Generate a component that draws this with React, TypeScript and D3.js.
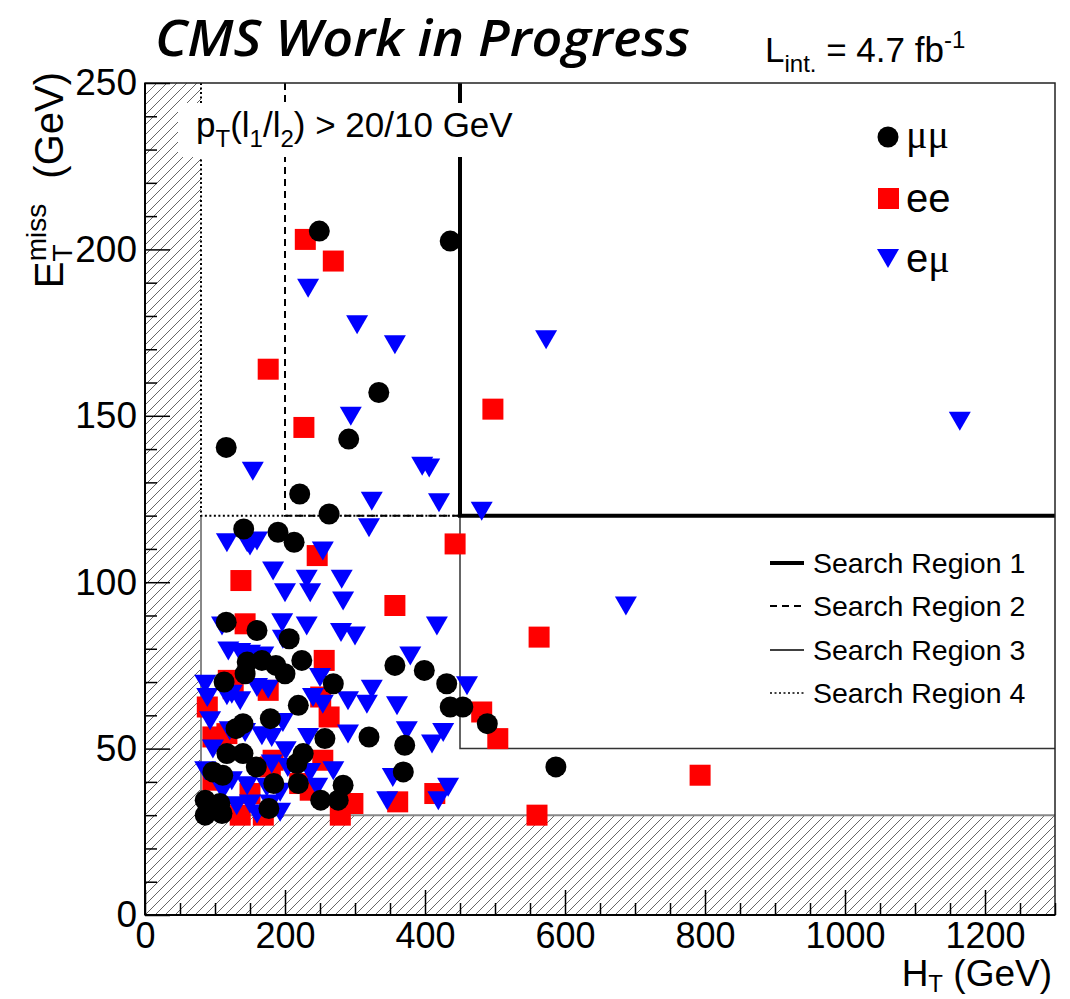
import * as d3 from "d3";
import { useEffect, useRef } from "react";

const W = 1070;
const H = 999;

// mu-mu events (HT, MET in GeV)
const mumuHT = [249, 436, 334, 291, 116, 221, 263, 141, 190, 213, 116, 160, 206, 224, 146, 167, 187, 200, 143, 113, 269, 357, 399, 431, 219, 436, 454, 489, 179, 140, 130, 257, 320, 371, 117, 140, 226, 217, 159, 97, 111, 369, 587, 184, 219, 283, 251, 276, 86, 107, 86, 110, 177];
const mumuMET = [205.5, 202.5, 157, 143, 140.5, 126.5, 120.5, 116, 115, 112, 88, 85.5, 83, 76.5, 76, 76.5, 75, 72.5, 72.5, 70, 69.5, 75, 73.5, 69.5, 63, 62.5, 62.5, 57.5, 59, 57.5, 56, 53, 53.5, 51, 48.5, 48.5, 48.5, 45.5, 44.5, 43, 42, 43, 44.5, 39.5, 39.5, 39, 34.5, 34.5, 34.5, 33.5, 30, 30.5, 32];

// e-e events
const eeHT = [229, 269, 176, 227, 497, 443, 246, 137, 357, 563, 793, 560, 143, 256, 176, 126, 89, 251, 263, 481, 504, 254, 414, 361, 297, 279, 97, 179, 97, 236, 136, 169, 150, 221, 117, 183, 119];
const eeMET = [203, 196.5, 164, 146.5, 152, 111.5, 108, 100.5, 93, 83.5, 42, 30, 87.5, 76.5, 67.5, 68, 62.5, 65.5, 59.5, 61, 53, 46.5, 36.5, 34, 33.5, 30, 53.5, 44.5, 40.5, 37.5, 30, 30, 36.5, 39.5, 54.5, 46.5, 70.5];

// e-mu events
const emuHT = [233, 303, 357, 573, 1164, 294, 154, 396, 406, 420, 324, 481, 687, 320, 117, 146, 160, 150, 254, 183, 231, 281, 200, 236, 283, 110, 196, 231, 280, 300, 197, 417, 119, 136, 150, 169, 379, 250, 324, 86, 89, 117, 136, 160, 176, 124, 240, 254, 290, 317, 360, 460, 93, 121, 143, 167, 181, 197, 233, 290, 374, 426, 410, 97, 201, 86, 124, 146, 174, 193, 236, 246, 269, 354, 433, 419, 346, 131, 150, 160, 193, 111, 181, 204, 179];
const emuMET = [188.5, 177.5, 171.5, 173, 148.5, 150, 133.5, 135, 134.5, 124, 124.5, 121.5, 93, 116.5, 112, 112, 112.5, 111, 109.5, 103.5, 101, 101, 97, 97, 94.5, 87, 88, 87, 85, 84, 83, 87, 79.5, 79, 78.5, 78, 78, 71.5, 68, 69.5, 65.5, 66, 64.5, 68.5, 68, 66.5, 65.5, 63.5, 64.5, 63.5, 63, 69, 58.5, 55.5, 55, 54, 53.5, 58, 53.5, 54.5, 55.5, 55, 51.5, 50, 49.5, 43.5, 40.5, 39, 38.5, 37, 43, 38.5, 43.5, 41.5, 38.5, 34.5, 34.5, 33, 33.5, 30.5, 31, 37.5, 45.5, 44.5, 33.5];

// search region outlines
const sr1HT = [450, 450, 1300];
const sr1MET = [250, 120, 120];
const sr2HT = [200, 200, 450];
const sr2MET = [250, 120, 120];
const sr3HT = [450, 450, 1300];
const sr3MET = [120, 50, 50];
const sr4HT = [80, 80, 450];
const sr4MET = [250, 120, 120];
const cutHT = [80, 80, 1300];
const cutMET = [120, 30, 30];

const xMajor = [0, 200, 400, 600, 800, 1000, 1200];
const xMinor = d3.range(0, 1301, 50).filter((v) => v % 200 !== 0);
const yMajor = [0, 50, 100, 150, 200, 250];
const yMinor = d3.range(0, 251, 10).filter((v) => v % 50 !== 0);

const regionLabels = ["Search Region 1", "Search Region 2", "Search Region 3", "Search Region 4"];

const x = d3.scaleLinear().domain([0, 1300]).range([145, 1055]);
const y = d3.scaleLinear().domain([0, 250]).range([915, 83]);

const SANS = "'Liberation Sans', Arial, Helvetica, sans-serif";
const SERIF = "'Liberation Serif', 'DejaVu Serif', serif";

const App = () => {
  const ref = useRef<SVGGElement>(null);

  useEffect(() => {
    const g = d3.select(ref.current);
    g.selectAll("*").remove();

    // X axis
    const xa = g
      .append("g")
      .attr("transform", `translate(0,${y(0)})`)
      .call(
        d3.axisBottom(x).tickValues(xMajor).tickFormat(d3.format("d")).tickSizeInner(-25).tickSizeOuter(0).tickPadding(7)
      );
    xa.select(".domain").remove();
    xa.selectAll("line").attr("stroke", "#000").attr("stroke-width", 1.5);
    xa.selectAll("text").attr("font-size", 36).attr("font-family", SANS).attr("fill", "#000");
    const xm = g
      .append("g")
      .attr("transform", `translate(0,${y(0)})`)
      .call(d3.axisBottom(x).tickValues(xMinor).tickSizeInner(-12).tickSizeOuter(0).tickFormat(() => ""));
    xm.select(".domain").remove();
    xm.selectAll("line").attr("stroke", "#000").attr("stroke-width", 1.5);

    // Y axis
    const ya = g
      .append("g")
      .attr("transform", `translate(${x(0)},0)`)
      .call(
        d3.axisLeft(y).tickValues(yMajor).tickFormat(d3.format("d")).tickSizeInner(-25).tickSizeOuter(0).tickPadding(8)
      );
    ya.select(".domain").remove();
    ya.selectAll("line").attr("stroke", "#000").attr("stroke-width", 1.5);
    ya.selectAll("text").attr("font-size", 37).attr("font-family", SANS).attr("fill", "#000");
    const ym = g
      .append("g")
      .attr("transform", `translate(${x(0)},0)`)
      .call(d3.axisLeft(y).tickValues(yMinor).tickSizeInner(-12).tickSizeOuter(0).tickFormat(() => ""));
    ym.select(".domain").remove();
    ym.selectAll("line").attr("stroke", "#000").attr("stroke-width", 1.5);
  }, []);

  const path = (hx: number[], my: number[]) =>
    d3.line<number>().x((d) => x(hx[d])).y((d) => y(my[d]))(d3.range(hx.length)) ?? "";

  const tri = (cx: number, cy: number) => `M${cx - 11},${cy - 9}L${cx + 11},${cy - 9}L${cx},${cy + 10}Z`;

  const legendY = [563, 606, 650, 693];
  const legendStyle = [
    { w: 4, dash: "" },
    { w: 2, dash: "7,5" },
    { w: 1.5, dash: "" },
    { w: 1.5, dash: "2,2.5" },
  ];

  return (
    <svg width={W} height={H} style={{ position: "absolute", left: 0, top: 0, background: "#fff" }}>
      <defs>
        <pattern id="hatch" patternUnits="userSpaceOnUse" width="10" height="10">
          <path d="M0,10L10,0M-2.5,2.5L2.5,-2.5M7.5,12.5L12.5,7.5" stroke="#666" strokeWidth="1" />
        </pattern>
      </defs>

      {/* excluded (hatched) regions */}
      <rect x={x(0)} y={y(250)} width={x(80) - x(0)} height={y(0) - y(250)} fill="url(#hatch)" />
      <rect x={x(0)} y={y(30)} width={x(1300) - x(0)} height={y(0) - y(30)} fill="url(#hatch)" />
      <path d={path(cutHT, cutMET)} fill="none" stroke="#888" strokeWidth={2} />

      {/* search regions */}
      <path d={path(sr4HT, sr4MET)} fill="none" stroke="#000" strokeWidth={2} strokeDasharray="2,2.5" />
      <path d={path(sr2HT, sr2MET)} fill="none" stroke="#000" strokeWidth={2} strokeDasharray="7,5" />
      <path d={path(sr3HT, sr3MET)} fill="none" stroke="#333" strokeWidth={1.5} />
      <path d={path(sr1HT, sr1MET)} fill="none" stroke="#000" strokeWidth={4} />

      {/* selection label */}
      <rect x={178} y={103} width={365} height={54} fill="#fff" />
      <text x={196} y={137} fontFamily={SANS} fontSize={35} fill="#000">
        p<tspan fontSize={24} dy={10}>T</tspan>
        <tspan dy={-10}>(l</tspan>
        <tspan fontSize={24} dy={10}>1</tspan>
        <tspan dy={-10}>/l</tspan>
        <tspan fontSize={24} dy={10}>2</tspan>
        <tspan dy={-10}>) &gt; 20/10 GeV</tspan>
      </text>

      {/* events */}
      <g fill="#ff0000">
        {eeHT.map((h, i) => (
          <rect key={i} x={x(h) - 10.5} y={y(eeMET[i]) - 10.5} width={21} height={21} />
        ))}
      </g>
      <g fill="#0000ff">
        {emuHT.map((h, i) => (
          <path key={i} d={tri(x(h), y(emuMET[i]))} />
        ))}
      </g>
      <g fill="#000">
        {mumuHT.map((h, i) => (
          <circle key={i} cx={x(h)} cy={y(mumuMET[i])} r={10.5} />
        ))}
      </g>

      {/* frame */}
      <rect x={x(0)} y={y(250)} width={x(1300) - x(0)} height={y(0) - y(250)} fill="none" stroke="#222" strokeWidth={1.5} />
      <line x1={x(0)} x2={x(1300)} y1={y(0)} y2={y(0)} stroke="#000" strokeWidth={2} />
      <line x1={x(0)} x2={x(0)} y1={y(0)} y2={y(250)} stroke="#000" strokeWidth={2} />
      <g ref={ref} />

      {/* channel legend */}
      <circle cx={888} cy={137} r={10.5} fill="#000" />
      <text x={906} y={148} fontFamily={SERIF} fontSize={40} fill="#000">μμ</text>
      <rect x={878} y={188} width={21} height={21} fill="#ff0000" />
      <text x={906} y={212} fontFamily={SANS} fontSize={40} fill="#000">ee</text>
      <path d={tri(888, 258)} fill="#0000ff" />
      <text x={906} y={272} fontFamily={SANS} fontSize={40} fill="#000">
        e<tspan fontFamily={SERIF}>μ</tspan>
      </text>

      {/* region legend */}
      {regionLabels.map((t, i) => (
        <g key={t}>
          <line x1={770} x2={804} y1={legendY[i]} y2={legendY[i]} stroke="#000" strokeWidth={legendStyle[i].w} strokeDasharray={legendStyle[i].dash} />
          <text x={813} y={legendY[i] + 10} fontFamily={SANS} fontSize={28.5} fill="#000">{t}</text>
        </g>
      ))}

      {/* titles */}
      <text x={155} y={56} fontFamily="'Open Sans', sans-serif" fontStyle="italic" fontWeight={600} fontSize={50} textLength={535} lengthAdjust="spacingAndGlyphs" fill="#000">
        CMS Work in Progress
      </text>
      <text x={765} y={62} fontFamily={SANS} fontSize={35} fill="#000">
        L<tspan fontSize={24} dy={10}>int.</tspan>
        <tspan dy={-10}> = 4.7 fb</tspan>
        <tspan fontSize={24} dy={-14}>-1</tspan>
      </text>
      <text x={1052} y={986} textAnchor="end" fontFamily={SANS} fontSize={37} fill="#000">
        H<tspan fontSize={24} dy={6}>T</tspan>
        <tspan dy={-6}> (GeV)</tspan>
      </text>
      <text transform="translate(63,72) rotate(-90)" textAnchor="end" fontFamily={SANS} fontSize={40} fill="#000">
        E<tspan fontSize={28} dy={9}>T</tspan>
        <tspan fontSize={28} dx={-17} dy={-26}>miss</tspan>
        <tspan dy={17} dx={14}> (GeV)</tspan>
      </text>
    </svg>
  );
};

export default App;
